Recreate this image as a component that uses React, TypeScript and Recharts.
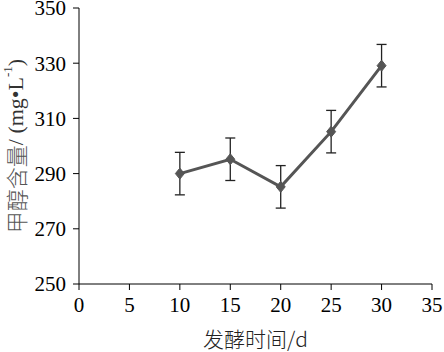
import { ErrorBar, Label, Line, LineChart, XAxis, YAxis } from "recharts";

const days = [10, 15, 20, 25, 30];
const methanol = [290, 295.2, 285.2, 305.2, 329.1];
const errors = [7.7, 7.7, 7.7, 7.7, 7.7];
const xTicks = [0, 5, 10, 15, 20, 25, 30, 35];
const yTicks = [250, 270, 290, 310, 330, 350];

const data = days.map((day, i) => ({ day, value: methanol[i], err: errors[i] }));

const SERIF = "Liberation Serif";
const CJK = "Noto Sans CJK SC";

interface DotProps {
  cx?: number;
  cy?: number;
  index?: number;
}

function Diamond({ cx, cy, index }: DotProps) {
  if (cx == null || cy == null) return null;
  return (
    <polygon
      key={`d-${index}`}
      points={`${cx},${cy - 5.5} ${cx + 4.5},${cy} ${cx},${cy + 5.5} ${cx - 4.5},${cy}`}
      fill="#555"
      stroke="#555"
      strokeWidth={1}
    />
  );
}

interface TickProps {
  x?: number;
  y?: number;
  payload?: { value: number };
}

function XTick({ x, y, payload }: TickProps) {
  return (
    <text x={x} y={y} dy="0.71em" textAnchor="middle" fontSize={21} fill="#000" fontFamily={SERIF}>
      {payload?.value}
    </text>
  );
}

function YTick({ x, y, payload }: TickProps) {
  return (
    <text x={x} y={y} dy="0.35em" textAnchor="end" fontSize={21} fill="#000" fontFamily={SERIF}>
      {payload?.value}
    </text>
  );
}

interface LabelViewBox {
  viewBox?: { x: number; y: number; width: number; height: number };
}

function YLabel({ viewBox }: LabelViewBox) {
  if (!viewBox) return null;
  const cx = 15;
  const cy = viewBox.y + viewBox.height / 2;
  return (
    <text
      x={cx}
      y={cy}
      transform={`rotate(-90, ${cx}, ${cy})`}
      textAnchor="middle"
      dominantBaseline="central"
      fontSize={22}
      fill="#333"
    >
      <tspan style={{ fontFamily: CJK, fontWeight: 300 }} fill="#555">甲醇含量</tspan>
      <tspan style={{ fontFamily: SERIF }}>/ (mg•L</tspan>
      <tspan style={{ fontFamily: SERIF }} fontSize={13} dy={-8}>-1</tspan>
      <tspan style={{ fontFamily: SERIF }} dy={8}>)</tspan>
    </text>
  );
}

export default function App() {
  return (
    <div style={{ position: "absolute", left: 0, top: 0, background: "#fff" }}>
      <style>{`.recharts-wrapper text { font-family: "Liberation Serif", serif; }`}</style>
      <LineChart width={444} height={352} data={data} margin={{ top: 8, right: 12, bottom: 0, left: 0 }}>
        <XAxis
          dataKey="day"
          type="number"
          domain={[0, 35]}
          ticks={xTicks}
          height={68}
          tickSize={6}
          tickMargin={7}
          stroke="#000"
          tick={<XTick />}
          interval={0}
        >
          <Label
            value="发酵时间/d"
            position="insideBottom"
            offset={5}
            style={{ fontSize: 21, fontFamily: CJK, fontWeight: 300, fill: "#222" }}
          />
        </XAxis>
        <YAxis
          type="number"
          domain={[250, 350]}
          ticks={yTicks}
          width={79}
          tickSize={6}
          tickMargin={7}
          stroke="#000"
          tick={<YTick />}
          interval={0}
        >
          <Label content={<YLabel />} />
        </YAxis>
        <Line
          dataKey="value"
          stroke="#555"
          strokeWidth={3}
          dot={<Diamond />}
          activeDot={false}
          isAnimationActive={false}
        >
          <ErrorBar dataKey="err" width={5} strokeWidth={1.3} stroke="#222" direction="y" />
        </Line>
      </LineChart>
    </div>
  );
}
